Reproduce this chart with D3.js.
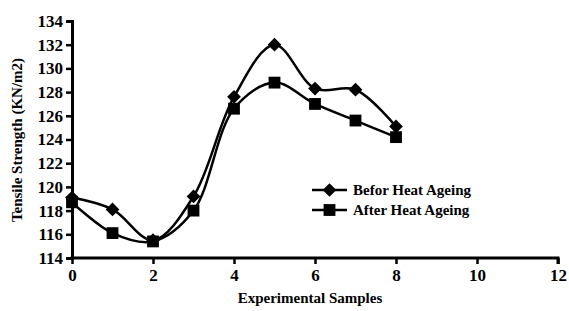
<!DOCTYPE html>
<html>
<head>
<style>
  html, body { margin: 0; padding: 0; background: #fff; }
  svg text { font-family: "Liberation Serif", "Times New Roman", serif; font-weight: bold; fill: #000; }
</style>
</head>
<body>
<div id="vis"></div>
<script src="https://cdnjs.cloudflare.com/ajax/libs/d3/7.8.5/d3.min.js"></script>
<script>
// data
var samples = [0, 1, 2, 3, 4, 5, 6, 7, 8];
var beforAgeing = [119.1, 118.1, 115.5, 119.2, 127.6, 132.0, 128.3, 128.2, 125.1];
var afterAgeing = [118.7, 116.1, 115.4, 118.0, 126.6, 128.8, 127.0, 125.6, 124.2];
var xTicks = [0, 2, 4, 6, 8, 10, 12];
var yTicks = [114, 116, 118, 120, 122, 124, 126, 128, 130, 132, 134];
var seriesNames = ["Befor Heat Ageing", "After Heat Ageing"];

var width = 569, height = 311;
var margin = {left: 72, right: 11, top: 21, bottom: 53};
var serif = "'Liberation Serif', 'Times New Roman', serif";

var svg = d3.select("#vis").append("svg")
  .attr("width", width)
  .attr("height", height);

var x = d3.scaleLinear().domain([0, 12]).range([margin.left, width - margin.right]);
var y = d3.scaleLinear().domain([114, 134]).range([height - margin.bottom, margin.top]);

// axes
var xAxis = svg.append("g")
  .attr("transform", "translate(0," + y(114) + ")")
  .call(d3.axisBottom(x).tickValues(xTicks).tickSize(6).tickPadding(5));
var yAxis = svg.append("g")
  .attr("transform", "translate(" + x(0) + ",0)")
  .call(d3.axisLeft(y).tickValues(yTicks).tickSize(6).tickPadding(3));

[xAxis, yAxis].forEach(function(a) {
  a.attr("font-family", serif);
  a.select(".domain").attr("stroke", "#000").attr("stroke-width", 3);
  a.selectAll(".tick line").attr("stroke", "#000").attr("stroke-width", 2.5);
  a.selectAll(".tick text").style("font-size", "17px").style("font-family", serif).style("font-weight", "bold");
});
xAxis.select(".domain").attr("d", "M" + (x(0) - 1.5) + ",0H" + x(12) + "V6");

// titles
svg.append("text")
  .attr("x", 310).attr("y", 303)
  .attr("text-anchor", "middle")
  .style("font-size", "15px")
  .text("Experimental Samples");
svg.append("text")
  .attr("transform", "translate(22,140) rotate(-90)")
  .attr("text-anchor", "middle")
  .style("font-size", "15px")
  .text("Tensile Strength (KN/m2)");

var line = d3.line()
  .x(function(d, i) { return x(samples[i]); })
  .y(function(d) { return y(d); })
  .curve(d3.curveCatmullRom.alpha(0.5));

var diamond = d3.symbol().type(d3.symbolDiamond2).size(120);
var square = d3.symbol().type(d3.symbolSquare).size(140);
var series = [beforAgeing, afterAgeing];
var shapes = [diamond, square];

series.forEach(function(vals, k) {
  svg.append("path")
    .attr("d", line(vals))
    .attr("fill", "none")
    .attr("stroke", "#000")
    .attr("stroke-width", 2.5);
  svg.selectAll(".m" + k)
    .data(vals)
    .enter().append("path")
    .attr("class", "m" + k)
    .attr("transform", function(d, i) { return "translate(" + x(samples[i]) + "," + y(d) + ")"; })
    .attr("d", shapes[k]())
    .attr("fill", "#000");
});

// legend
var legend = svg.append("g").attr("transform", "translate(312,190)");
seriesNames.forEach(function(name, k) {
  var g = legend.append("g").attr("transform", "translate(0," + (k * 20) + ")");
  g.append("line").attr("x1", 0).attr("x2", 35).attr("stroke", "#000").attr("stroke-width", 2.5);
  g.append("path").attr("transform", "translate(17.5,0)").attr("d", shapes[k]()).attr("fill", "#000");
  g.append("text").attr("x", 41).attr("y", 5).style("font-size", "15px").text(name);
});
</script>
</body>
</html>
